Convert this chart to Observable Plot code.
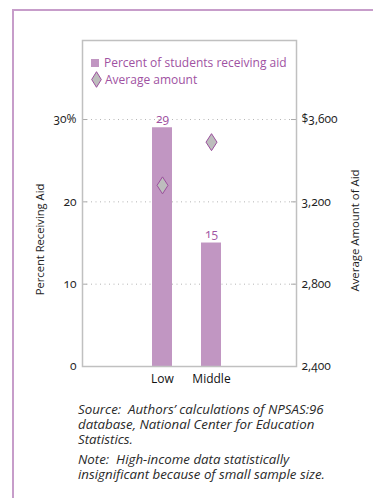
<!DOCTYPE html>
<html>
<head>
<meta charset="utf-8">
<script src="https://cdn.jsdelivr.net/npm/d3@7"></script>
<script src="https://cdn.jsdelivr.net/npm/@observablehq/plot@0.6"></script>
<style>
  html, body { margin: 0; padding: 0; background: #fff; }
  body { width: 373px; height: 498px; position: relative; overflow: hidden; font-family: "Open Sans", sans-serif; }
  #outer { position: absolute; left: 12px; top: 9px; width: 400px; height: 520px;
           border-left: 2px solid #c79dca; border-top: 2px solid #c79dca; }
  #chart { position: absolute; left: 0; top: 0; }
  #chart svg text { font-variant-numeric: oldstyle-nums; }
  #legend { position: absolute; left: 91px; top: 54px; font-size: 12px; color: #a052a2; line-height: 17px; }
  #legend .row { display: flex; align-items: center; white-space: nowrap; }
  #legend .sq { display: inline-block; width: 8px; height: 8px; background: #c196c2; margin-right: 5px; }
  #legend svg { margin-right: 3px; }
  #notes { position: absolute; left: 78px; top: 402px; width: 264px; font-style: italic; font-size: 13.3px; color: #2a2a2a; line-height: 15px; }
  #notes p { margin: 0 0 5px 0; }
</style>
</head>
<body>
<div id="outer"></div>
<div id="chart"></div>
<div id="legend"></div>
<div id="notes"></div>
<script>
const categories = ["Low", "Middle"];
const percentReceiving = [29, 15];
const averageAmount = [3280, 3490];
const pctTicks = [0, 10, 20, 30];
const pctTickLabels = ["0", "10", "20", "30%"];
const amountTicks = [2400, 2800, 3200, 3600];
const amountTickLabels = ["2,400", "2,800", "3,200", "$3,600"];
const legendLabels = ["Percent of students receiving aid", "Average amount"];
const axisTitles = ["Percent Receiving Aid", "Average Amount of Aid"];
const notes = [
  "Source:&nbsp; Authors\u2019 calculations of NPSAS:96 database, National Center for Education Statistics.",
  "Note:&nbsp; High-income data statistically insignificant because of small sample size."
];

const amtMin = amountTicks[0];
const amtPerPct = (amountTicks[amountTicks.length - 1] - amtMin) / pctTicks[pctTicks.length - 1];
const toPct = a => (a - amtMin) / amtPerPct;

const data = categories.map((c, i) => ({cat: c, pct: percentReceiving[i], amt: averageAmount[i]}));

const diamond = {
  draw(ctx, size) {
    const r = Math.sqrt(size / Math.PI);
    const w = 1.1 * r, h = 1.7 * r;
    ctx.moveTo(0, -h); ctx.lineTo(w, 0); ctx.lineTo(0, h); ctx.lineTo(-w, 0); ctx.closePath();
  }
};

const W = 373, H = 400, ML = 82, MR = 77, MT = 40, MB = 34;
const frameW = W - ML - MR;

const chart = Plot.plot({
  width: W, height: H,
  marginLeft: ML, marginRight: MR, marginTop: MT, marginBottom: MB,
  style: {fontFamily: "'Open Sans', sans-serif", fontSize: "11px", color: "#222", background: "transparent"},
  x: {domain: categories, range: [137.5, 235.5], paddingInner: 0.592, paddingOuter: 0.296, label: null},
  y: {domain: [0, 39.6], label: null},
  marks: [
    Plot.gridY(pctTicks.slice(1), {stroke: "#b5b5b5", strokeOpacity: 1, strokeDasharray: "1,3.5"}),
    Plot.tickY(pctTicks, {y: d => d, insetRight: frameW - 5, stroke: "#aaa"}),
    Plot.tickY(amountTicks.map(toPct), {y: d => d, insetLeft: frameW - 5, stroke: "#aaa"}),
    Plot.barY(data, {x: "cat", y: "pct", fill: "#c196c2"}),
    Plot.text(data, {x: "cat", y: "pct", text: d => String(d.pct), dy: -5, lineAnchor: "bottom", fill: "#a052a2", fontSize: 12}),
    Plot.dot(data, {x: "cat", y: d => toPct(d.amt), symbol: diamond, r: 5, fill: "#bdbdbd", stroke: "#9b4f9d", strokeWidth: 1}),
    Plot.frame({stroke: "#c0c0c0", strokeWidth: 1.5}),
    Plot.axisY(pctTicks, {anchor: "left", tickSize: 0, tickPadding: 6, tickFormat: d => pctTickLabels[pctTicks.indexOf(d)], fontSize: 12, fill: "#222", label: null}),
    Plot.axisY(amountTicks.map(toPct), {anchor: "right", tickSize: 0, tickPadding: 5, tickFormat: d => amountTickLabels[amountTicks.map(toPct).indexOf(d)], fontSize: 12, fill: "#222", label: null}),
    Plot.axisX({tickSize: 0, tickPadding: 8, fontSize: 12, fill: "#111", label: null}),
    Plot.text([axisTitles[0]], {text: d => d, frameAnchor: "left", textAnchor: "middle", rotate: -90, dx: -42, dy: 36, fontSize: 11.2, fill: "#222"}),
    Plot.text([axisTitles[1]], {text: d => d, frameAnchor: "right", textAnchor: "middle", rotate: -90, dx: 59, dy: 27, fontSize: 11.4, fill: "#222"})
  ]
});
document.getElementById("chart").appendChild(chart);

document.getElementById("legend").innerHTML =
  `<div class="row"><span class="sq"></span>${legendLabels[0]}</div>` +
  `<div class="row"><svg width="11" height="17" viewBox="0 0 11 17"><polygon points="5.5,0.7 10.3,8.5 5.5,16.3 0.7,8.5" fill="#bdbdbd" stroke="#9b4f9d" stroke-width="1"/></svg>${legendLabels[1]}</div>`;

document.getElementById("notes").innerHTML = notes.map(n => `<p>${n}</p>`).join("");
</script>
</body>
</html>
